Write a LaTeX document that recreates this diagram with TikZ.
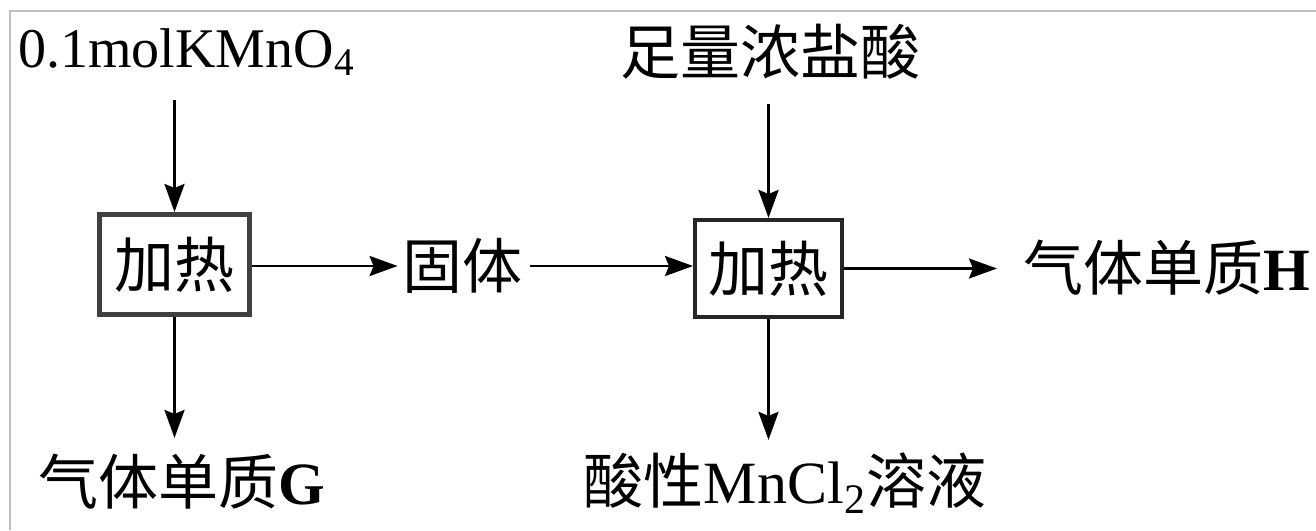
\documentclass[tikz,border=0pt]{standalone}
\usepackage{fontspec}
\setmainfont{Liberation Serif}
\newfontfamily\cjk{Noto Sans CJK SC}
\usetikzlibrary{arrows.meta}
\begin{document}
\begin{tikzpicture}[x=0.5pt,y=-0.5pt,
  lbl/.style={inner sep=0pt, font=\fontsize{30}{36}\selectfont},
  heatbox/.style={draw, inner sep=0pt, font=\fontsize{30}{36}\selectfont\cjk},
  arr/.style={line width=1.4pt, -{Stealth[length=14pt,width=10pt,inset=2pt]}},
  frame/.style={draw=black!25, line width=1pt}]
\useasboundingbox (0,0) rectangle (1316,530);
\draw[frame] (10,530) -- (10,11) -- (1316,11);
\node[lbl, anchor=west, font=\fontsize{28}{34}\selectfont] (k) at (18,52) {0.1molKMnO\textsubscript{4}};
\node[lbl] (hcl) at (770,52) {\cjk 足量浓盐酸};
\node[heatbox, line width=2.5pt, draw=black!75, minimum width=75pt, minimum height=50pt] (b1) at (174.5,264.5) {加热};
\node[lbl] (gt) at (462,266) {\cjk 固体};
\node[heatbox, line width=2pt, draw=black!85, minimum width=73.5pt, minimum height=48.5pt] (b2) at (768.5,268.5) {加热};
\node[lbl, anchor=west] (h) at (1023,268) {{\cjk 气体单质}\textbf{H}};
\node[lbl] (g) at (182,482) {{\cjk 气体单质}\textbf{G}};
\node[lbl] (mn) at (785,483) {{\cjk 酸性}MnCl\textsubscript{2}{\cjk 溶液}};
\draw[arr, shorten <=12pt] (k.south -| b1.north) -- (b1.north);
\draw[arr, shorten <=12pt] (hcl.south -| b2.north) -- (b2.north);
\draw[arr, shorten >=2pt] (b1.east |- gt.west) -- (gt.west);
\draw[arr, shorten <=4pt] (gt.east) -- (gt.east -| b2.west);
\draw[arr, shorten >=13pt] (b2.east) -- (h.west |- b2.east);
\draw[arr, shorten >=8pt] (b1.south) -- (g.north -| b1.south);
\draw[arr, shorten >=6pt] (b2.south) -- (mn.north -| b2.south);
\end{tikzpicture}
\end{document}
